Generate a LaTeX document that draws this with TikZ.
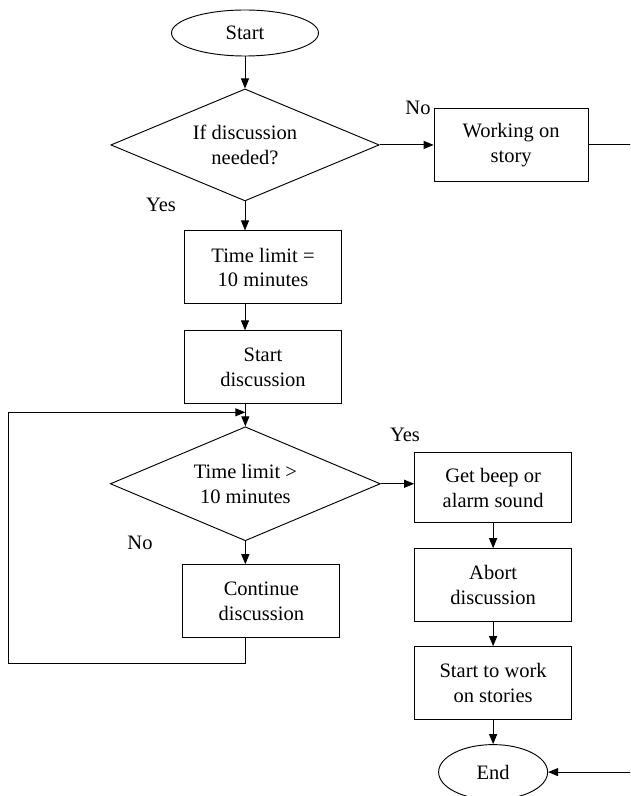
\documentclass[tikz,border=0pt]{standalone}
\usepackage{fontspec}
\setmainfont{Liberation Serif}
\usetikzlibrary{positioning,shapes.geometric,arrows.meta}

\begin{document}
\begin{tikzpicture}[x=0.03cm, y=-0.03cm, line width=0.8pt,
        >={Triangle[length=0.3cm,width=0.24cm]},
        font=\rmfamily\fontsize{17.5}{21}\selectfont,
        term/.style={draw, ellipse, inner sep=0pt},
        box/.style={draw, rectangle, align=center, minimum width=4.71cm, minimum height=2.19cm, inner sep=2pt},
        cond/.style={draw, diamond, align=center, aspect=2.4, inner sep=0pt, minimum width=8.05cm, minimum height=3.36cm},
        lbl/.style={inner sep=0pt}]
        \useasboundingbox (0,0) rectangle (630,796);
        \clip (0,0) rectangle (630,796);

        \node[term, minimum width=4.41cm, minimum height=1.38cm] (start) at (245,33) {Start};
        \node[cond, below=0.96cm of start] (ifdisc) {If discussion\\needed?};
        \node[box, right=1.62cm of ifdisc, minimum width=4.62cm] (working) {Working on\\story};
        \node[box, below=0.87cm of ifdisc, xshift=0.54cm] (limit) {Time limit =\\10 minutes};
        \node[box, below=0.78cm of limit] (startdisc) {Start\\discussion};
        \node[cond, below=0.66cm of startdisc, xshift=-0.53cm, minimum width=8.1cm, minimum height=3.42cm] (over) {Time limit >\\10 minutes};
        \node[box, below=0.69cm of over, xshift=0.48cm] (continue) {Continue\\discussion};
        \node[box, right=1.0cm of over, yshift=-0.12cm, minimum height=2.1cm] (beep) {Get beep or\\alarm sound};
        \node[box, below=0.75cm of beep] (abort) {Abort\\discussion};
        \node[box, below=0.72cm of abort] (towork) {Start to work\\on stories};
        \node[term, below=0.72cm of towork, minimum width=3.27cm, minimum height=1.65cm] (end) {End};

        \node[lbl] (no1) at (418,108) {No};
        \node[lbl] (yes1) at (161,205) {Yes};
        \node[lbl] (yes2) at (405,435) {Yes};
        \node[lbl] (no2) at (140,543) {No};

        \coordinate (back) at (8,663);
        \coordinate (join) at ([yshift=0.42cm]over.north);
        \coordinate (rim) at (645,0);

        \draw[->] (start) -- (ifdisc);
        \draw[->] (ifdisc) -- (working);
        \draw[->] (ifdisc.south) -- (ifdisc.south |- limit.north);
        \draw[->] (limit.south -| ifdisc.south) -- (startdisc.north -| ifdisc.south);
        \draw[->] (startdisc.south -| over.north) -- (over.north);
        \draw[->] (over.east) -- (over.east -| beep.west);
        \draw[->] (over.south) -- (over.south |- continue.north);
        \draw[->] (beep) -- (abort);
        \draw[->] (abort) -- (towork);
        \draw[->] (towork) -- (end);
        \draw[->] (continue.south -| over.south) |- (back) |- (join);
        \draw[->] (working.east) -| (rim |- end.east) -- (end.east);
\end{tikzpicture}
\end{document}
